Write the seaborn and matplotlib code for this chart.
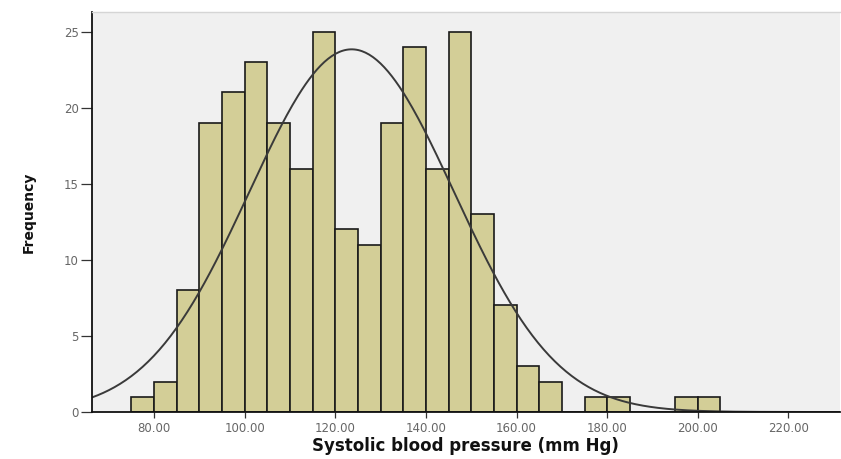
import numpy as np
import pandas as pd
import matplotlib
matplotlib.use("Agg")
import matplotlib.pyplot as plt
import seaborn as sns

# ---- data ----
bin_start = 75
bin_width = 5
counts = [1, 2, 8, 19, 21, 23, 19, 16, 25, 12, 11, 19, 24, 16, 25, 13, 7, 3, 2,
          0, 1, 1, 0, 0, 1, 1]
fit_mean = 123.6
fit_sd = 22.6
x_ticks = [80, 100, 120, 140, 160, 180, 200, 220]
y_ticks = [0, 5, 10, 15, 20, 25]
x_label = "Systolic blood pressure (mm Hg)"
y_label = "Frequency"

n_bins = len(counts)
edges = [float(bin_start + bin_width * i) for i in range(n_bins + 1)]
mids = [e + bin_width / 2 for e in edges[:-1]]
df = pd.DataFrame({"sbp": mids, "count": counts})

sns.set_theme(style="white")
fig = plt.figure(figsize=(8.41, 4.59), dpi=100)
ax = fig.add_axes([0.1094, 0.1024, 0.889, 0.872])
ax.set_facecolor("#F0F0F0")

sns.histplot(data=df, x="sbp", weights="count", bins=edges, ax=ax,
             color="#D3CE97", alpha=1.0, edgecolor="#1a1a1a", linewidth=1.2)

xlim = (66.3, 231.3)
xs = np.linspace(xlim[0], xlim[1], 400)
total = sum(counts)
ys = total * bin_width / (fit_sd * np.sqrt(2 * np.pi)) * np.exp(-0.5 * ((xs - fit_mean) / fit_sd) ** 2)
sns.lineplot(x=xs, y=ys, ax=ax, color="#3a3a3a", linewidth=1.4)

ax.set_xlim(*xlim)
ax.set_ylim(0, 26.3)
ax.set_xticks(x_ticks)
ax.set_xticklabels([f"{v:.2f}" for v in x_ticks])
ax.set_yticks(y_ticks)
ax.set_yticklabels([str(v) for v in y_ticks])
ax.tick_params(axis="both", direction="out", width=0.9, color="#333333",
               labelsize=8.5, labelcolor="#666666", left=True, bottom=True)
ax.tick_params(axis="y", length=8, pad=1.5)
ax.tick_params(axis="x", length=4, pad=3)

for s in ["left", "bottom"]:
    ax.spines[s].set_color("#111111")
    ax.spines[s].set_linewidth(1.3)
ax.spines["top"].set_color("#D5D5D5")
ax.spines["top"].set_linewidth(1.0)
ax.spines["right"].set_visible(False)

ax.set_xlabel(x_label, fontsize=12, fontweight="bold", color="#111111", labelpad=2)
ax.set_ylabel(y_label, fontsize=10, fontweight="bold", color="#111111", labelpad=20)

fig.savefig("out.png", dpi=100, facecolor="white")
